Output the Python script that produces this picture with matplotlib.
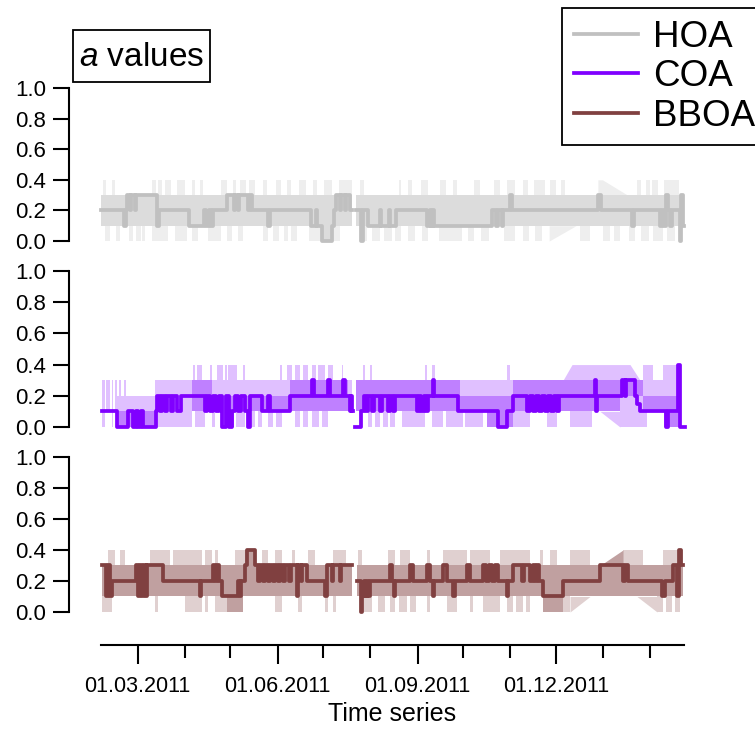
import numpy as np
import matplotlib.pyplot as plt
import matplotlib.dates as mdates
from matplotlib.lines import Line2D
from matplotlib.patches import Rectangle
from matplotlib.ticker import FormatStrFormatter

plt.rcParams['font.family'] = ['Liberation Sans', 'DejaVu Sans']
plt.rcParams['mathtext.fontset'] = 'custom'
plt.rcParams['mathtext.rm'] = 'Liberation Sans'
plt.rcParams['mathtext.it'] = 'Liberation Sans:italic'

T0 = mdates.date2num(np.datetime64('2011-01-01'))
nan = np.nan

names = ['HOA', 'COA', 'BBOA']
line_colors = ['#c0c0c0', '#8000ff', '#804040']
iqr_colors = ['#dcdcdc', '#bf80ff', '#c0a0a0']
range_colors = ['#eeeeee', '#e0c0ff', '#e0d0d0']

# a value steps: (day since 01.01.2011, value), series ends at *_end
hoa_line = [(35.3, .2), (50.1, .1), (51.1, .2), (52.1, .3), (54.1, .2), (54.7, .3), (57.4, .2), (58.0, .3),
            (71.8, .1), (72.8, .2), (92.8, .1), (102.7, .2), (104.0, .1), (106.0, .2), (107.3, .1), (108.6, .2),
            (117.8, .3), (122.4, .2), (123.1, .3), (125.0, .2), (125.7, .3), (131.6, .2), (132.9, .3), (134.2, .2),
            (144.7, .1), (146.1, .2), (173.0, .1), (176.3, .2), (177.0, .1), (180.3, .0), (186.8, .1), (188.1, .2),
            (189.5, .3), (192.0, .2), (192.7, .3), (195.3, .2), (196.0, .3), (198.6, .2), (199.9, nan), (202.5, .2),
            (205.8, .0), (207.1, .2), (210.4, .1), (218.3, .2), (218.9, .1), (224.2, .2), (224.9, .1), (228.8, .2),
            (249.2, .1), (251.2, .2), (251.8, .1), (253.1, .2), (253.8, .1), (291.9, .2), (294.5, .1), (295.9, .2),
            (298.5, .1), (299.1, .2), (303.7, .3), (305.0, .2), (361.5, .3), (363.5, .2), (383.9, .1), (385.2, .2),
            (402.3, .1), (403.6, .2), (404.9, .1), (406.2, .3), (407.6, .2), (408.9, .1), (410.2, .2), (415.5, .0),
            (416.4, .3), (417.1, .1)]
hoa_end = 417.8

coa_line = [(35.7, .1), (45.5, .0), (52.8, .1), (56.0, .0), (58.0, .1), (59.3, .0), (61.3, .1), (62.6, .0),
            (71.2, .1), (72.1, .2), (73.8, .1), (75.1, .2), (77.1, .1), (78.4, .2), (81.0, .1), (82.3, .2),
            (85.0, .1), (87.6, .2), (103.3, .1), (104.7, .2), (106.6, .1), (108.6, .2), (110.6, .1), (112.5, .2),
            (114.5, .0), (117.1, .2), (119.1, .0), (121.1, .1), (123.1, .2), (125.0, .1), (127.0, .2), (129.6, .1),
            (131.6, .0), (132.9, .2), (140.8, .1), (144.7, .2), (146.1, .1), (159.2, .2), (173.6, .3), (175.0, .2),
            (184.1, .3), (185.5, .2), (194.0, .3), (195.3, .2), (198.6, .1), (199.3, .2), (199.9, .1), (200.6, nan),
            (201.9, .0), (205.8, .1), (207.8, .2), (209.1, .1), (210.4, .2), (213.1, .1), (214.4, .2), (218.3, .1),
            (219.6, .2), (223.6, .1), (224.9, .2), (226.9, .1), (228.2, .2), (242.6, .1), (243.9, .2), (245.2, .1),
            (247.2, .2), (248.5, .1), (249.9, .2), (253.1, .3), (254.1, .2), (269.6, .1), (295.9, .0), (301.8, .1),
            (305.7, .2), (314.9, .1), (316.9, .2), (318.8, .1), (320.8, .2), (322.8, .1), (324.8, .2), (326.7, .1),
            (328.7, .2), (330.7, .1), (332.6, .2), (334.6, .1), (335.9, .2), (359.6, .3), (360.3, .1), (360.9, .2),
            (377.3, .3), (379.3, .2), (380.0, .3), (385.9, .2), (387.2, .15), (389.2, .1), (406.2, .0), (407.6, .1),
            (414.4, .4), (415.5, .0)]
coa_end = 418.7

bboa_line = [(35.7, .3), (38.3, .1), (39.6, .3), (40.9, .1), (42.2, .2), (58.0, .3), (59.3, .1), (60.6, .3),
             (62.0, .1), (63.3, .3), (64.6, .1), (65.2, .3), (75.8, .2), (100.1, .1), (100.8, .2), (108.6, .3),
             (109.9, .2), (111.2, .3), (112.5, .2), (114.5, .1), (125.0, .2), (126.3, .1), (127.0, .2), (129.6, .3),
             (131.0, .4), (136.2, .3), (138.2, .2), (139.5, .3), (141.5, .2), (142.8, .3), (144.7, .2), (146.1, .3),
             (148.0, .2), (149.3, .3), (151.3, .2), (152.6, .3), (154.6, .2), (155.9, .3), (158.5, .2), (159.8, .3),
             (163.8, .1), (164.6, .3), (166.6, .2), (167.3, .3), (170.4, .2), (182.2, .1), (183.5, .3), (186.8, .2),
             (187.5, .3), (192.0, .2), (192.7, .3), (199.9, nan), (203.2, .2), (205.8, .0), (206.8, .1), (207.8, .2),
             (208.5, .1), (209.8, .2), (210.4, .1), (211.8, .2), (224.9, .3), (226.2, .2), (227.5, .1), (228.2, .2),
             (238.0, .3), (240.0, .2), (249.2, .3), (251.2, .2), (253.1, .1), (253.8, .2), (259.7, .3), (262.4, .2),
             (266.3, .1), (267.6, .2), (275.5, .3), (277.5, .2), (286.0, .3), (288.0, .2), (290.0, .3), (291.9, .2),
             (293.9, .3), (295.9, .2), (301.8, .1), (302.4, .2), (305.7, .3), (311.6, .2), (313.0, .3), (316.9, .2),
             (318.8, .3), (320.2, .2), (321.5, .3), (322.8, .2), (325.4, .1), (338.6, .2), (362.9, .3), (378.0, .2),
             (379.3, .3), (381.3, .2), (403.6, .1), (405.6, .2), (410.9, .3), (413.5, .1), (414.8, .4), (416.1, .3)]
bboa_end = 417.4

# inner band (start, end, low, high)
hoa_iqr = [(35.3, 199.9, .1, .3), (202.5, 417.8, .1, .3), (180.3, 186.8, .0, .1)]
coa_iqr = [(45.5, 70.5, .0, .1), (94.8, 108.0, .1, .3), (108.0, 140.8, .1, .2), (114.5, 122.4, .0, .1),
           (140.8, 159.2, .1, .2), (159.2, 197.0, .1, .3), (197.0, 199.9, .1, .2), (202.5, 271.0, .1, .3),
           (271.0, 295.9, .1, .2), (288.7, 305.7, .0, .2), (305.7, 376.0, .1, .3), (376.0, 391.1, .2, .3),
           (391.1, 405.0, .1, .2), (405.0, 413.4, .0, .2), (413.4, 415.5, .0, .4)]
bboa_iqr = [(35.7, 199.9, .1, .3), (203.2, 417.4, .1, .3), (118.0, 128.0, .0, .1), (129.6, 137.0, .3, .4),
            (325.4, 338.6, .0, .1)]

# outer band (start, end, low, high)
hoa_rng = [(36.5, 38.0, .3, .4), (42.0, 44.0, .3, .4), (68.7, 71.2, .3, .4), (72.5, 75.0, .3, .4),
           (77.0, 81.3, .3, .4), (85.0, 90.0, .3, .4), (95.0, 97.0, .3, .4), (100.0, 102.0, .3, .4),
           (113.9, 117.6, .3, .4), (121.4, 124.0, .3, .4), (126.0, 130.0, .3, .4), (132.0, 136.4, .3, .4),
           (141.4, 143.9, .3, .4), (150.0, 153.0, .3, .4), (157.0, 160.0, .3, .4), (165.0, 170.0, .3, .4),
           (174.1, 176.6, .3, .4), (181.6, 186.6, .3, .4), (191.6, 199.9, .3, .4), (205.0, 208.0, .3, .4),
           (230.5, 231.8, .3, .4), (236.8, 239.3, .3, .4), (245.0, 250.0, .3, .4), (258.0, 262.0, .3, .4),
           (266.0, 269.0, .3, .4), (280.0, 284.0, .3, .4), (293.2, 297.0, .3, .4), (302.0, 307.0, .3, .4),
           (312.0, 315.8, .3, .4), (319.5, 327.0, .3, .4), (330.0, 334.0, .3, .4), (337.0, 340.0, .3, .4),
           (387.0, 390.0, .3, .4), (393.0, 396.0, .3, .4), (397.3, 401.0, .3, .4), (404.8, 414.8, .3, .4),
           (37.4, 41.1, .0, .1), (44.9, 47.4, .0, .1), (53.7, 56.0, .0, .1), (58.0, 61.0, .0, .1),
           (62.0, 63.7, .0, .1), (68.7, 78.7, .0, .1), (83.8, 91.3, .0, .1), (95.0, 99.0, .0, .1),
           (105.1, 113.9, .0, .1), (118.0, 121.0, .0, .1), (125.0, 128.0, .0, .1), (141.4, 145.0, .0, .1),
           (148.0, 152.0, .0, .1), (155.0, 158.0, .0, .1), (160.0, 164.0, .0, .1), (171.6, 184.1, .0, .1),
           (187.0, 192.0, .0, .1), (206.7, 210.0, .0, .1), (213.0, 218.0, .0, .1), (221.0, 226.0, .0, .1),
           (228.0, 231.8, .0, .1), (237.0, 241.0, .0, .1), (246.0, 250.0, .0, .1), (256.8, 271.9, .0, .1),
           (276.0, 280.0, .0, .1), (285.0, 290.0, .0, .1), (299.5, 307.0, .0, .1), (312.0, 316.0, .0, .1),
           (320.0, 325.0, .0, .1), (350.0, 356.0, .0, .1), (364.6, 369.6, .0, .1), (372.0, 376.0, .0, .1),
           (382.2, 386.0, .0, .1), (390.0, 395.0, .0, .1), (398.0, 404.0, .0, .1), (407.0, 412.2, .0, .1)]
coa_rng = [(35.9, 37.5, .0, .3), (38.5, 41.0, .1, .3), (42.0, 43.0, .0, .3), (44.0, 45.5, .1, .3),
           (45.5, 70.5, .0, .2), (47.0, 48.0, .0, .3), (50.0, 51.5, .0, .3), (70.5, 94.8, .0, .3),
           (94.8, 199.9, .1, .3), (202.5, 413.4, .1, .3),
           (95.7, 96.8, .3, .4), (97.9, 101.2, .3, .4), (106.6, 107.7, .3, .4), (111.0, 115.4, .3, .4),
           (116.5, 117.6, .3, .4), (118.7, 124.2, .3, .4), (128.5, 129.6, .3, .4), (152.6, 153.7, .3, .4),
           (157.0, 160.3, .3, .4), (162.5, 165.8, .3, .4), (167.9, 171.2, .3, .4), (173.4, 176.0, .3, .4),
           (177.5, 182.2, .3, .4), (184.4, 187.6, .3, .4), (193.2, 194.2, .3, .4), (207.3, 208.5, .3, .4),
           (211.8, 212.9, .3, .4), (247.9, 249.2, .3, .4), (252.5, 254.5, .3, .4), (301.8, 303.7, .3, .4),
           (391.1, 397.7, .3, .4), (404.3, 413.5, .3, .4),
           (96.8, 103.3, .0, .1), (107.9, 109.9, .0, .1), (118.5, 122.0, .0, .1), (124.0, 129.6, .0, .1),
           (134.2, 136.2, .0, .1), (138.2, 140.8, .0, .1), (144.7, 148.0, .0, .1), (150.0, 153.9, .0, .1),
           (162.5, 166.0, .0, .1), (168.0, 171.0, .0, .1), (173.6, 178.0, .0, .1), (180.0, 184.1, .0, .1),
           (210.4, 213.1, .0, .1), (215.0, 218.3, .0, .1), (220.3, 223.6, .0, .1), (224.9, 228.2, .0, .1),
           (232.8, 247.9, .0, .1), (252.5, 260.0, .0, .1), (262.0, 272.9, .0, .1), (274.2, 286.0, .0, .1),
           (289.3, 295.2, .0, .1), (299.1, 316.9, .0, .1), (328.1, 334.6, .0, .1), (343.2, 357.6, .0, .1),
           (376.0, 393.7, .0, .1)]
bboa_rng = [(39.6, 44.2, .3, .4), (47.5, 50.8, .3, .4), (67.2, 80.0, .3, .4), (82.0, 101.4, .3, .4),
            (103.3, 107.9, .3, .4), (109.9, 111.9, .3, .4), (123.1, 134.2, .3, .4), (140.8, 144.7, .3, .4),
            (149.3, 153.9, .3, .4), (160.5, 162.5, .3, .4), (171.0, 175.6, .3, .4), (187.5, 196.0, .3, .4),
            (203.9, 206.5, .3, .4), (223.6, 228.2, .3, .4), (231.5, 238.0, .3, .4), (249.2, 251.2, .3, .4),
            (259.7, 275.5, .3, .4), (277.5, 290.6, .3, .4), (297.2, 316.9, .3, .4), (323.5, 325.4, .3, .4),
            (330.0, 334.6, .3, .4), (343.2, 356.3, .3, .4), (378.0, 391.1, .3, .4), (404.3, 417.4, .3, .4),
            (35.7, 42.2, .0, .1), (70.5, 72.5, .0, .1), (90.2, 101.4, .0, .1), (103.3, 105.3, .0, .1),
            (109.9, 118.5, .0, .1), (149.3, 153.9, .0, .1), (164.4, 167.1, .0, .1), (182.2, 184.1, .0, .1),
            (187.5, 189.5, .0, .1), (206.5, 213.1, .0, .1), (217.0, 221.6, .0, .1), (224.9, 228.0, .0, .1),
            (231.0, 236.0, .0, .1), (238.0, 242.3, .0, .1), (249.2, 251.2, .0, .1), (262.4, 269.0, .0, .1),
            (277.5, 279.5, .0, .1), (286.0, 297.2, .0, .1), (301.8, 306.0, .0, .1), (308.0, 312.0, .0, .1),
            (314.0, 316.9, .0, .1), (330.0, 335.0, .0, .1), (337.0, 343.2, .0, .1), (400.4, 404.0, .0, .1),
            (406.0, 410.0, .0, .1), (412.0, 415.5, .0, .1)]

# bands across the data gaps: (day, low, high) points, drawn as outer or inner band
hoa_ramps = [('rng', [(361.5, .3, .4), (364.5, .3, .4), (381.0, .3, .3)]),
             ('rng', [(329.5, .0, .1), (347.1, .1, .1)])]
coa_ramps = [('rng', [(338.6, .3, .3), (344.5, .3, .4), (382.6, .3, .4), (389.2, .3, .3)]),
             ('rng', [(362.9, .1, .1), (376.0, .0, .1)])]
bboa_ramps = [('iqr', [(362.9, .3, .3), (378.0, .3, .4)]),
              ('rng', [(343.2, .0, .1), (356.3, .1, .1)]),
              ('rng', [(387.2, .1, .1), (400.4, .0, .1)])]


def to_num(d):
    return T0 + np.asarray(d, dtype=float)


def draw_series(ax, i, line, end, iqr, rng, ramps):
    for t0, t1, lo, hi in rng:
        ax.fill_between(to_num([t0, t1]), lo, hi, color=range_colors[i], lw=0, zorder=1)
    for kind, pts in ramps:
        d, lo, hi = zip(*pts)
        c = iqr_colors[i] if kind == 'iqr' else range_colors[i]
        ax.fill_between(to_num(d), lo, hi, color=c, lw=0, zorder=2 if kind == 'iqr' else 1)
    for t0, t1, lo, hi in iqr:
        ax.fill_between(to_num([t0, t1]), lo, hi, color=iqr_colors[i], lw=0, zorder=2)
    t = [p[0] for p in line] + [end]
    v = [p[1] for p in line]
    ax.plot(to_num(np.repeat(t, 2)[1:-1]), np.repeat(v, 2), color=line_colors[i], lw=2.7,
            zorder=3, clip_on=False)


fig = plt.figure(figsize=(7.55, 7.29), dpi=100)
boxes = [(0.1338, 0.6694, 0.7722, 0.2099),
         (0.1338, 0.4143, 0.7722, 0.2140),
         (0.1338, 0.1605, 0.7722, 0.2126)]
series = [(hoa_line, hoa_end, hoa_iqr, hoa_rng, hoa_ramps),
          (coa_line, coa_end, coa_iqr, coa_rng, coa_ramps),
          (bboa_line, bboa_end, bboa_iqr, bboa_rng, bboa_ramps)]

axes = []
for i, box in enumerate(boxes):
    ax = fig.add_axes(box, sharex=axes[0] if axes else None)
    ax.patch.set_alpha(0)
    draw_series(ax, i, *series[i])
    ax.set_ylim(0, 1)
    ax.set_yticks(np.arange(0, 1.01, 0.2))
    ax.yaxis.set_major_formatter(FormatStrFormatter('%.1f'))
    for s in ['top', 'right']:
        ax.spines[s].set_visible(False)
    ax.spines['left'].set_position(('outward', 23))
    ax.spines['left'].set_linewidth(1.5)
    ax.tick_params(axis='y', direction='out', length=11.5, width=1.5, labelsize=16, pad=5)
    if i < 2:
        ax.spines['bottom'].set_visible(False)
        ax.tick_params(axis='x', which='both', bottom=False, labelbottom=False)
    axes.append(ax)

ax = axes[2]
ax.set_xlim(to_num([35.0, 418.1]))
ax.spines['bottom'].set_position(('outward', 24))
ax.spines['bottom'].set_linewidth(1.5)
ax.xaxis.set_major_locator(mdates.MonthLocator(bymonth=[3, 6, 9, 12]))
ax.xaxis.set_major_formatter(mdates.DateFormatter('%d.%m.%Y'))
ax.xaxis.set_minor_locator(mdates.MonthLocator())
ax.tick_params(axis='x', which='major', direction='out', length=14, width=1.5, labelsize=15.5, pad=8)
ax.tick_params(axis='x', which='minor', direction='out', length=9.5, width=1.5)
ax.set_xlabel('Time series', fontsize=18, labelpad=4)

handles = [Line2D([], [], color=c, lw=2.7) for c in line_colors]
leg = fig.legend(handles, names, loc='upper left', bbox_to_anchor=(562 / 755, 1 - 8 / 729),
                 fontsize=26.5, frameon=True, fancybox=False, edgecolor='black', framealpha=1,
                 handlelength=1.75, handletextpad=0.4, labelspacing=0.12, borderpad=0.32, borderaxespad=0)
leg.get_frame().set_linewidth(1.3)

# boxed panel title
fig.patches.append(Rectangle((73 / 755, 1 - 82 / 729), 137 / 755, 52 / 729, transform=fig.transFigure,
                             fc='white', ec='black', lw=1.3))
fig.text(142 / 755, 1 - 57 / 729, r'$a$ values', fontsize=24, ha='center', va='center')

fig.savefig('out.png', dpi=100)
